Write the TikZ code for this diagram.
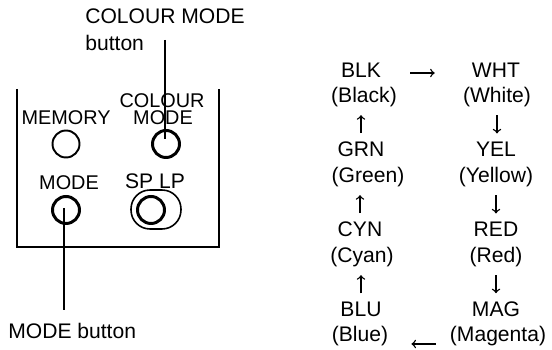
\documentclass[tikz,border=0pt]{standalone}
\usepackage{fontspec}
\setmainfont{Liberation Sans}
\begin{document}
\begin{tikzpicture}[x=0.02cm,y=-0.02cm,
  lbl/.style={inner sep=0pt,font=\fontsize{12}{13}\selectfont},
  panellbl/.style={inner sep=0pt,font=\fontsize{11.3}{13}\selectfont},
  btn/.style={draw,circle,minimum size=0.54cm,inner sep=0pt,line width=1.1pt},
  btnb/.style={btn,line width=1.7pt},
  lead/.style={line width=0.8pt},
  flow/.style={->,line width=0.8pt},
  updown/.style={flow,shorten >=0.16cm,shorten <=0.16cm}]
\useasboundingbox (0,0) rectangle (552,350);
% panel
\draw[line width=1.1pt] (17,89)--(17,247)--(219,247)--(219,89);
\node[btn] (membtn) at (66,144) {};
\node[btnb] (colbtn) at (166,144) {};
\node[btnb] (modebtn) at (66,210) {};
\node[draw,line width=0.9pt,rounded corners=0.38cm,minimum width=1cm,minimum height=0.78cm,inner sep=0pt] (spouter) at (156,209.5) {};
\node[btnb] (spbtn) at (151,210) {};
\node[panellbl] (memlbl) at (66,118) {MEMORY};
\node[panellbl] (collbl) at (162,101) {COLOUR};
\node[panellbl] (colmlbl) at (163,118) {MODE};
\node[panellbl] (modelbl) at (69,183) {MODE};
\node[lbl] (splbl) at (155,181) {SP LP};
% callouts
\node[lbl] (coltext) at (165,16) {COLOUR MODE};
\node[lbl,anchor=west] (buttext) at (85,43) {button};
\node[lbl,anchor=west] (modetext) at (8,331) {MODE button};
\coordinate (coltop) at (165,40);
\coordinate (colend) at (165,139);
\coordinate (modeend) at (64,208);
\coordinate (modebot) at (64,310);
\draw[line width=0.6pt] (coltop)--(colend);
\draw[lead] (modeend)--(modebot);
% colour order
\node[lbl] (blk) at (361,70) {BLK};
\node[lbl] (blkname) at (364,97) {(Black)};
\node[lbl] (grn) at (361,149) {GRN};
\node[lbl] (grnname) at (368,177) {(Green)};
\node[lbl] (cyn) at (360,229) {CYN};
\node[lbl] (cynname) at (362,257) {(Cyan)};
\node[lbl] (blu) at (361,309) {BLU};
\node[lbl] (bluname) at (360,336) {(Blue)};
\node[lbl] (wht) at (496,70) {WHT};
\node[lbl] (whtname) at (497,97) {(White)};
\node[lbl] (yel) at (496,149) {YEL};
\node[lbl] (yelname) at (496,177) {(Yellow)};
\node[lbl] (red) at (496,229) {RED};
\node[lbl] (redname) at (496,257) {(Red)};
\node[lbl] (mag) at (496,309) {MAG};
\node[lbl] (magname) at (498,336) {(Magenta)};
\draw[flow,shorten <=0.58cm,shorten >=0.74cm] ([yshift=-0.06cm]blk.east)--([yshift=-0.06cm]wht.west);
\draw[updown] (grn.north)--(grn.north|-blkname.south);
\draw[updown] (cyn.north)--(cyn.north|-grnname.south);
\draw[updown] (blu.north)--(blu.north|-cynname.south);
\draw[updown] (whtname.south)--(whtname.south|-yel.north);
\draw[updown] (yelname.south)--(yelname.south|-red.north);
\draw[updown] (redname.south)--(redname.south|-mag.north);
\draw[flow,shorten <=0.28cm,shorten >=0.46cm] ([yshift=-0.16cm]magname.west)--([yshift=-0.16cm]bluname.east);
\end{tikzpicture}
\end{document}
